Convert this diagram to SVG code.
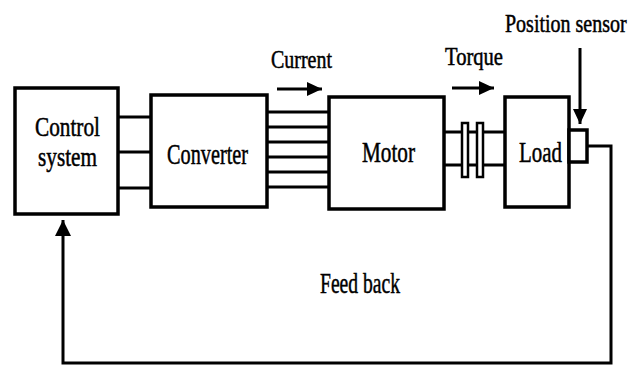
<svg xmlns="http://www.w3.org/2000/svg" width="632" height="367" viewBox="0 0 632 367">
<style>
.box{fill:#fff;stroke:#000;stroke-width:3.5}
.ln{fill:none;stroke:#000;stroke-width:3}
.t{font-family:"Liberation Serif","Times New Roman",serif;fill:#000;stroke:#000;stroke-width:0.5;text-anchor:start}
.big{font-size:30px}
.mid{font-size:27px}
.lab{font-size:25px}
.ps{font-size:20px;stroke-width:0.4}
</style>
<defs>
<marker id="ah" markerUnits="userSpaceOnUse" markerWidth="20" markerHeight="20" refX="16" refY="8" orient="auto">
<path d="M0,0 L16,8 L0,16 Z" fill="#000"/>
</marker>
<marker id="ahs" markerUnits="userSpaceOnUse" markerWidth="18" markerHeight="18" refX="15" refY="7" orient="auto">
<path d="M0,0 L15,7 L0,14 Z" fill="#000"/>
</marker>
</defs>
<rect width="632" height="367" fill="#fff"/>
<g id="connectors">
<path class="ln" d="M118,117 H151 M118,152 H151 M118,188 H151"/>
<path class="ln" d="M267,112 H329 M267,127 H329 M267,142 H329 M267,157 H329 M267,172 H329 M267,187 H329"/>
<path class="ln" d="M444,132 H505 M444,165 H505"/>
<path class="ln" d="M587,146 H611 V363 H63 V220" marker-end="url(#ah)"/>
<path class="ln" d="M277,89 H322" marker-end="url(#ahs)"/>
<path class="ln" d="M452,88 H494" marker-end="url(#ahs)"/>
<path class="ln" d="M580,48 V124" marker-end="url(#ahs)"/>
</g>
<g id="control-system">
<rect class="box" x="15" y="88" width="103" height="126"/>
<text class="t mid" x="35" y="136" textLength="65" lengthAdjust="spacingAndGlyphs">Control</text>
<text class="t mid" x="38" y="166" textLength="59" lengthAdjust="spacingAndGlyphs">system</text>
</g>
<g id="converter">
<rect class="box" x="151" y="95" width="116" height="112"/>
<text class="t big" x="167" y="164" textLength="81" lengthAdjust="spacingAndGlyphs">Converter</text>
</g>
<g id="motor">
<rect class="box" x="329" y="97" width="115" height="112"/>
<text class="t big" x="362" y="162" textLength="53" lengthAdjust="spacingAndGlyphs">Motor</text>
</g>
<g id="coupling">
<rect x="462" y="123" width="6" height="54" fill="#fff" stroke="#000" stroke-width="2.5"/>
<rect x="477" y="123" width="6" height="54" fill="#fff" stroke="#000" stroke-width="2.5"/>
</g>
<g id="load">
<rect class="box" x="505" y="97" width="64" height="110"/>
<text class="t big" x="519" y="162" textLength="43" lengthAdjust="spacingAndGlyphs">Load</text>
</g>
<g id="position-sensor">
<rect class="box" x="569" y="130" width="18" height="32"/>
<text class="t ps" transform="translate(505,32) scale(1,1.25)" x="0" y="0">Position sensor</text>
</g>
<g id="labels">
<text class="t lab" x="271" y="68" textLength="61" lengthAdjust="spacingAndGlyphs">Current</text>
<text class="t lab" x="445" y="65" textLength="58" lengthAdjust="spacingAndGlyphs">Torque</text>
<text class="t big" x="320" y="293" textLength="80" lengthAdjust="spacingAndGlyphs">Feed back</text>
</g>
</svg>
